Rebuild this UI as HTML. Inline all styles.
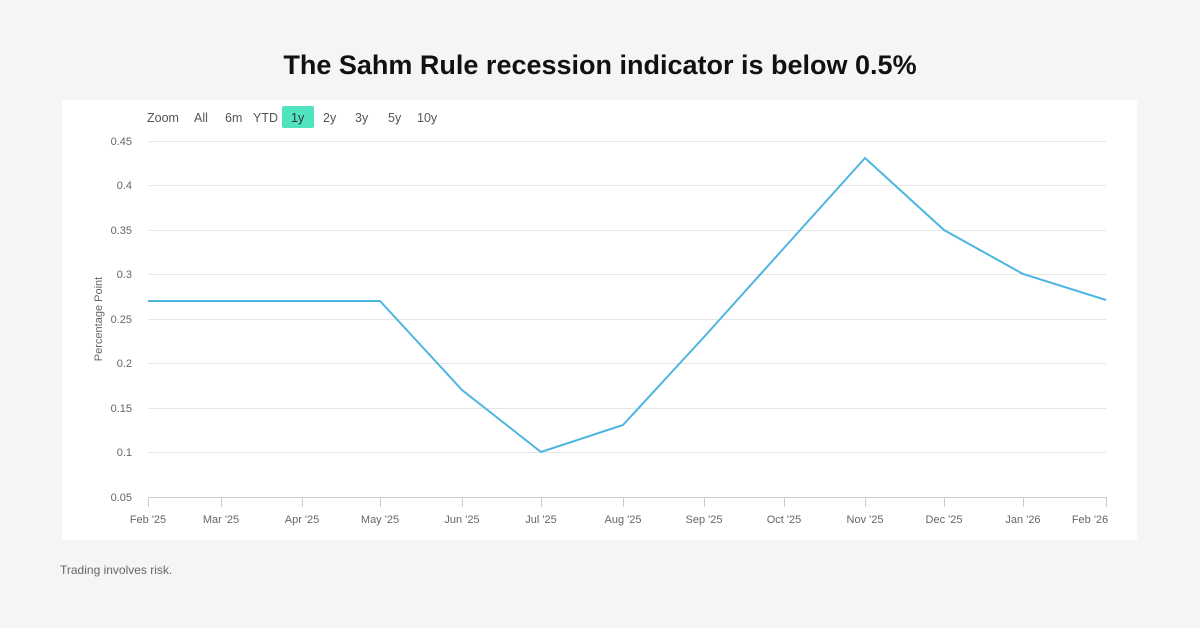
<!DOCTYPE html>
<html><head><style>
body{margin:0;width:1200px;height:628px;background:#f5f5f5;font-family:"Liberation Sans",sans-serif;overflow:hidden;position:relative}
.t{position:absolute;top:50px;left:0;width:1200px;text-align:center;font-size:27px;font-weight:bold;color:#111}
.p{position:absolute;left:62px;top:100px;width:1075px;height:440px;background:#fff}
.f{position:absolute;left:60px;top:563px;font-size:12px;color:#666}
</style></head><body>
<div class="t">The Sahm Rule recession indicator is below 0.5%</div>
<div class="p"></div>
<svg style="position:absolute;left:0;top:0" width="1200" height="628" font-family="Liberation Sans, sans-serif">
<g font-size="12.5" fill="#555">
<text x="147" y="122">Zoom</text><text x="194" y="122">All</text><text x="225" y="122">6m</text><text x="253" y="122">YTD</text>
<rect x="282" y="106" width="32" height="22" rx="2" fill="#4fe3bf"/><text x="291" y="122" fill="#333">1y</text>
<text x="323" y="122">2y</text><text x="355" y="122">3y</text><text x="388" y="122">5y</text><text x="417" y="122">10y</text>
</g>
<g stroke="#e6e6e6" stroke-width="1">
<line x1="148" x2="1106" y1="141.5" y2="141.5"/><line x1="148" x2="1106" y1="185.5" y2="185.5"/>
<line x1="148" x2="1106" y1="230.5" y2="230.5"/><line x1="148" x2="1106" y1="274.5" y2="274.5"/>
<line x1="148" x2="1106" y1="319.5" y2="319.5"/><line x1="148" x2="1106" y1="363.5" y2="363.5"/>
<line x1="148" x2="1106" y1="408.5" y2="408.5"/><line x1="148" x2="1106" y1="452.5" y2="452.5"/>
<line x1="148" x2="1106" y1="497.5" y2="497.5" stroke="#ccc"/>
</g>
<g stroke="#ccc"><line x1="148.5" x2="148.5" y1="497" y2="507"/><line x1="221.5" x2="221.5" y1="497" y2="507"/><line x1="302.5" x2="302.5" y1="497" y2="507"/><line x1="380.5" x2="380.5" y1="497" y2="507"/><line x1="462.5" x2="462.5" y1="497" y2="507"/><line x1="541.5" x2="541.5" y1="497" y2="507"/><line x1="623.5" x2="623.5" y1="497" y2="507"/><line x1="704.5" x2="704.5" y1="497" y2="507"/><line x1="784.5" x2="784.5" y1="497" y2="507"/><line x1="865.5" x2="865.5" y1="497" y2="507"/><line x1="944.5" x2="944.5" y1="497" y2="507"/><line x1="1023.5" x2="1023.5" y1="497" y2="507"/><line x1="1106.5" x2="1106.5" y1="497" y2="507"/></g>
<g font-size="11" fill="#666" text-anchor="end">
<text x="132" y="145">0.45</text><text x="132" y="189">0.4</text><text x="132" y="234">0.35</text><text x="132" y="278">0.3</text><text x="132" y="323">0.25</text><text x="132" y="367">0.2</text><text x="132" y="412">0.15</text><text x="132" y="456">0.1</text><text x="132" y="501">0.05</text>
</g>
<g font-size="11" fill="#666" text-anchor="middle">
<text x="148" y="523">Feb '25</text><text x="221" y="523">Mar '25</text><text x="302" y="523">Apr '25</text><text x="380" y="523">May '25</text><text x="462" y="523">Jun '25</text><text x="541" y="523">Jul '25</text><text x="623" y="523">Aug '25</text><text x="704" y="523">Sep '25</text><text x="784" y="523">Oct '25</text><text x="865" y="523">Nov '25</text><text x="944" y="523">Dec '25</text><text x="1023" y="523">Jan '26</text><text x="1090" y="523">Feb '26</text>
</g>
<text transform="translate(102,319) rotate(-90)" font-size="11" fill="#666" text-anchor="middle">Percentage Point</text>
<polyline fill="none" stroke="#4db6e0" stroke-width="2" points="148,301 221,301 302,301 380,301 462,390 541,452 623,425 704,337 784,248 865,158 944,230 1023,274 1106,300"/>
</svg>
<div class="f">Trading involves risk.</div>
</body></html>
